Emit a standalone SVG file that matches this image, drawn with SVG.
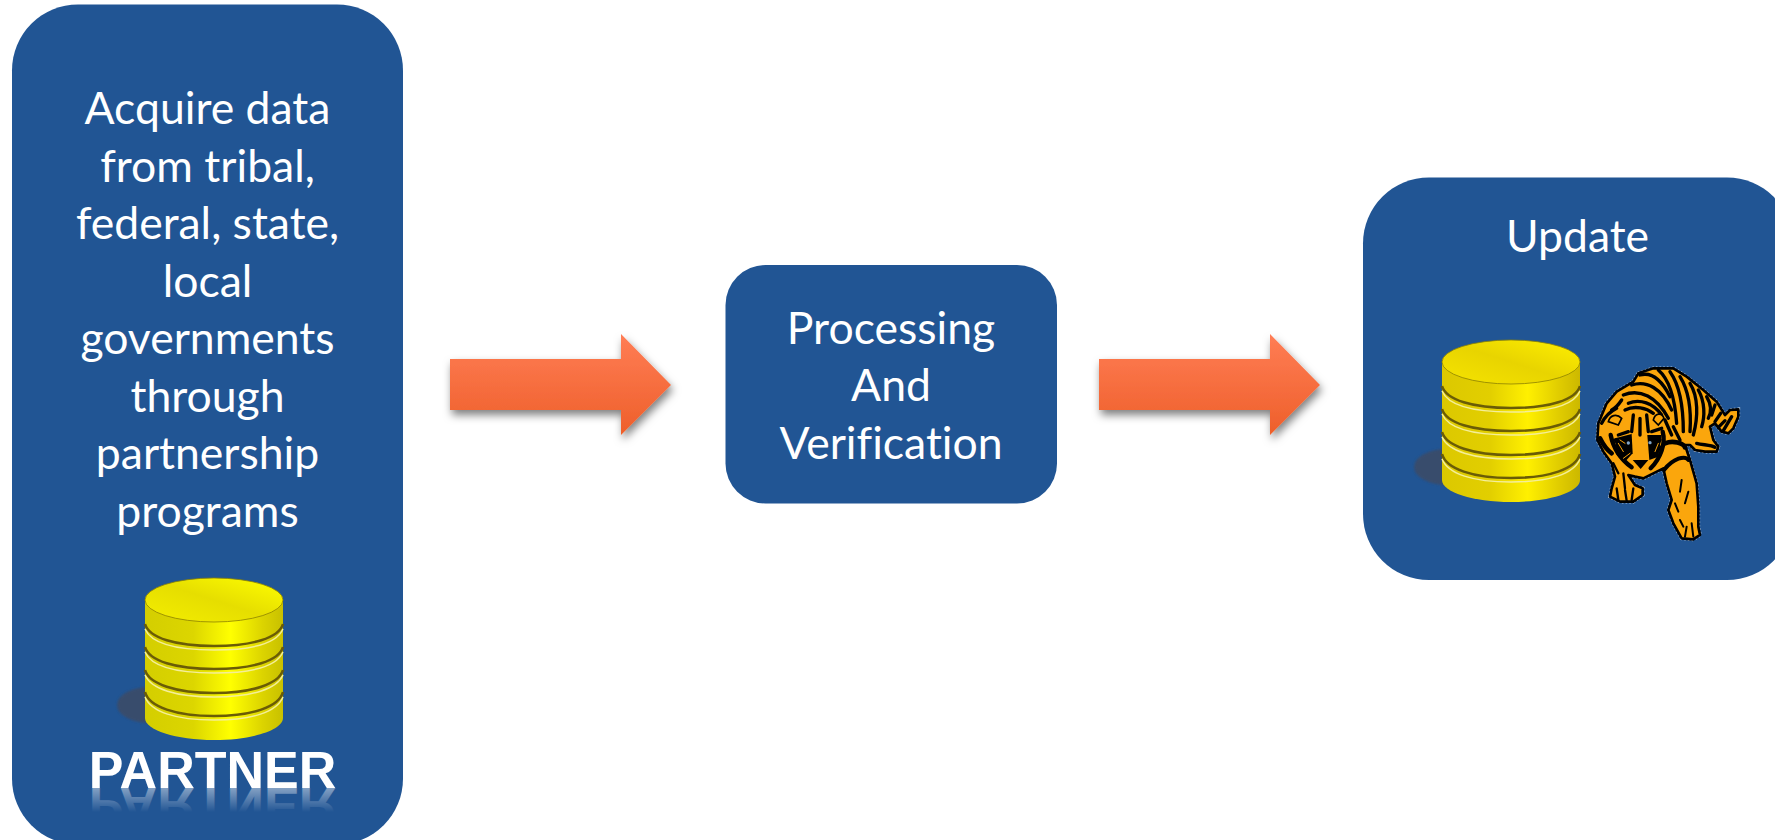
<svg xmlns="http://www.w3.org/2000/svg" width="1775" height="840" viewBox="0 0 1775 840">
<style>
.box{fill:#215594}
.t{font-family:"Lato","Noto Sans",sans-serif;font-size:44.5px;fill:#fff;text-anchor:middle;font-variant-ligatures:none}
.p{font-family:"Liberation Sans",Arial,sans-serif;font-weight:bold;font-size:52px;text-anchor:middle}
.s{fill:none;stroke:#000;stroke-linecap:round;stroke-linejoin:round}
.dk{fill:none;stroke:#6a5c06;stroke-width:2.6}
.lt{fill:none;stroke:#f4ee98;stroke-width:1.5}
.or{fill:#fba60c}
.bd{fill:var(--b)}
.tp{fill:var(--t)}
</style>
<defs>
<linearGradient id="ag" x1="0" y1="0" x2="0" y2="1"><stop offset="0" stop-color="#ff7d55"/><stop offset="1" stop-color="#ee5f2a"/></linearGradient>
<linearGradient id="body" x1="0" y1="0" x2="1" y2="0"><stop offset="0" stop-color="#d4ce00"/><stop offset=".35" stop-color="#dcd600"/><stop offset=".62" stop-color="#ffff00"/><stop offset=".85" stop-color="#dcd400"/><stop offset="1" stop-color="#c8c000"/></linearGradient>
<linearGradient id="top" x1="0" y1="1" x2="1" y2="0"><stop offset="0" stop-color="#f4ee00"/><stop offset=".5" stop-color="#e6de00"/><stop offset="1" stop-color="#ffff00"/></linearGradient>
<linearGradient id="body2" x1="0" y1="0" x2="1" y2="0"><stop offset="0" stop-color="#dcc800"/><stop offset=".35" stop-color="#e2cf00"/><stop offset=".62" stop-color="#fff000"/><stop offset=".85" stop-color="#e0cc00"/><stop offset="1" stop-color="#ccb800"/></linearGradient>
<linearGradient id="top2" x1="0" y1="1" x2="1" y2="0"><stop offset="0" stop-color="#f6e400"/><stop offset=".5" stop-color="#e8d400"/><stop offset="1" stop-color="#fff000"/></linearGradient>
<linearGradient id="rf" gradientUnits="userSpaceOnUse" x1="0" y1="-788" x2="0" y2="-812"><stop offset="0" stop-color="#fff" stop-opacity=".45"/><stop offset="1" stop-color="#fff" stop-opacity="0"/></linearGradient>
<filter id="ds" x="-10%" y="-20%" width="125%" height="150%"><feDropShadow dx="2" dy="5" stdDeviation="4" flood-color="#000" flood-opacity=".5"/></filter>
<filter id="bl" x="-30%" y="-30%" width="160%" height="160%"><feGaussianBlur stdDeviation="1"/></filter>
<symbol id="db" viewBox="0 0 170 165" width="170" height="165" overflow="visible">
<ellipse cx="35" cy="128" rx="33" ry="18" fill="#3d4c66" opacity=".85" filter="url(#bl)"/>
<path class="bd" d="M30 22V141C30 153 61 163 99 163S168 153 168 141V22Z"/>
<path class="dk" d="M30 47C34 61 61 69 99 69S164 61 168 47"/><path class="lt" d="M30 52C36 66 61 73 99 73S162 66 168 52"/>
<path class="dk" d="M30 70C34 84 61 92 99 92S164 84 168 70"/><path class="lt" d="M30 75C36 89 61 96 99 96S162 89 168 75"/>
<path class="dk" d="M30 93C34 107 61 116 99 116S164 107 168 93"/><path class="lt" d="M30 98C36 112 61 120 99 120S162 112 168 98"/>
<path class="dk" d="M30 115C34 130 61 139 99 139S164 130 168 115"/><path class="lt" d="M30 120C36 135 61 143 99 143S162 135 168 120"/>
<ellipse class="tp" cx="99" cy="23" rx="69" ry="22" stroke="#8d8200" stroke-width=".8"/>
</symbol>
</defs>
<rect width="1775" height="840" fill="#fff"/>
<g id="connectors">
<path id="arrow1" d="M450 359H621V334L671 385L621 435V410H450Z" fill="url(#ag)" filter="url(#ds)"/>
<path id="arrow2" d="M1099 359H1270V334L1320 385L1270 435V410H1099Z" fill="url(#ag)" filter="url(#ds)"/>
</g>
<g id="node-partner">
<rect class="box" x="12" y="4.5" width="391" height="840" rx="66"/>
<text class="t" x="207.5" y="124">Acquire data</text>
<text class="t" x="207.5" y="181.500">from tribal,</text>
<text class="t" x="207.5" y="239">federal, state,</text>
<text class="t" x="207.5" y="296.500">local</text>
<text class="t" x="207.5" y="354">governments</text>
<text class="t" x="207.5" y="411.500">through</text>
<text class="t" x="207.5" y="469">partnership</text>
<text class="t" x="207.5" y="526.500">programs</text>
<use href="#db" x="115" y="577" style="--b:url(#body);--t:url(#top)"/>
<text class="p" x="212.500" y="788" fill="#fff">PARTNER</text>
<text class="p" x="212.500" y="-788" transform="scale(1 -1)" fill="url(#rf)">PARTNER</text>
</g>
<g id="node-processing">
<rect class="box" x="725.5" y="265" width="331.5" height="238.5" rx="40"/>
<text class="t" x="891" y="344">Processing</text>
<text class="t" x="891" y="401">And</text>
<text class="t" x="891" y="458.500">Verification</text>
</g>
<g id="node-update">
<rect class="box" x="1363" y="177.5" width="430" height="402.5" rx="66"/>
<text class="t" x="1577.5" y="252">Update</text>
<use href="#db" x="1412" y="339" style="--b:url(#body2);--t:url(#top2)"/>
<g id="tiger" transform="translate(1590 360) scale(.3333)">
<path d="M145 40L190 25H250L290 50L340 90L380 125L405 165L420 150L445 148V170L430 205L415 220L395 215L375 190L360 200L370 240L385 260L380 275H345L315 270L300 255H285L300 300L320 370L325 440V500L330 525L310 538L275 535L250 490L235 450L245 420L230 370L220 325L190 340L160 355L135 350L115 345L135 375L158 385V405L130 425H90L60 410L65 385L75 350L65 310L40 275L22 240L25 190L50 130L80 95L130 65Z" fill="none" stroke="#dfe6ee" stroke-width="11" stroke-dasharray="5 6" opacity=".8"/>
<path class="or" d="M145 40L190 25H250L290 50L340 90L380 125L405 165L420 150L445 148V170L430 205L415 220L395 215L375 190L360 200L370 240L385 260L380 275H345L315 270L300 255H285L300 300L320 370L325 440V500L330 525L310 538L275 535L250 490L235 450L245 420L230 370L220 325L190 340L160 355L135 350L115 345L135 375L158 385V405L130 425H90L60 410L65 385L75 350L65 310L40 275L22 240L25 190L50 130L80 95L130 65Z" stroke="#000" stroke-width="8" stroke-linejoin="round"/>
<g class="s" stroke-width="10">
<path d="M150 45C185 35 215 60 240 110"/><path d="M125 75C170 60 215 85 245 150"/><path d="M100 105C150 85 200 110 235 175"/>
<path d="M115 130C150 115 190 130 215 165"/><path d="M105 150C135 135 170 145 190 160"/>
<path d="M205 30C240 60 255 120 260 190"/><path d="M240 35C265 70 280 130 280 215"/>
<path d="M270 50C295 90 305 140 300 215"/><path d="M300 70C325 110 325 170 310 225"/>
<path d="M325 90C345 125 345 170 335 200"/><path d="M350 110C365 135 365 155 355 175"/>
<path d="M375 135L365 165"/><path d="M392 160L375 185"/><path d="M405 182L385 202"/><path d="M425 170L400 212"/>
<path d="M225 250C250 240 280 250 285 262" stroke-width="14"/><path d="M320 250C340 255 365 255 375 262"/>
<path d="M250 200L270 240"/><path d="M225 180L245 225"/><path d="M95 120C85 135 75 145 65 150"/>
<path d="M35 190C45 170 60 155 80 145"/><path d="M30 235C40 255 50 270 65 280" stroke-width="14"/>
<path d="M85 225L115 215M185 215L215 205M80 260L110 285M190 285L215 260M75 240L105 270M210 240L190 270"/>
<path d="M62 225C70 265 95 300 125 322" stroke-width="13"/><path d="M218 215C228 250 212 295 182 325" stroke-width="13"/>
<path d="M130 165L125 215M170 165L175 215M150 175V225"/>
<path d="M70 310L85 340M100 340L105 385M80 385L85 420M105 390L110 422M130 385L125 420" stroke-width="7"/>
<path d="M222 330C250 295 285 285 295 300" stroke-width="12"/>
<path d="M275 360L270 395M295 395L285 430M255 430L265 455M290 500L285 530M305 490L310 530M270 480L280 500" stroke-width="6"/>
</g>
<path class="or" d="M55 185C60 165 80 160 95 175L85 195Z" stroke="#000" stroke-width="5"/>
<path class="or" d="M190 180C195 160 215 155 222 175L205 195Z" stroke="#000" stroke-width="5"/>
<path d="M75 235L125 222L128 280L105 305L80 285Z" fill="#000"/>
<path d="M172 225L215 225L205 290L178 300Z" fill="#000"/>
<path class="or" d="M143 240H158L172 297H130Z"/>
<path d="M128 300H175L152 327Z" fill="#000"/>
<path class="s" stroke="#fba60c" stroke-width="3" style="stroke:#fba60c" d="M85 250L100 275M90 240L105 250M195 275L205 250M100 295L120 280"/>
<circle cx="115" cy="249" r="5" fill="#7fa4c8"/><circle cx="180" cy="248" r="5" fill="#7fa4c8"/>
</g>
</g>
</svg>
